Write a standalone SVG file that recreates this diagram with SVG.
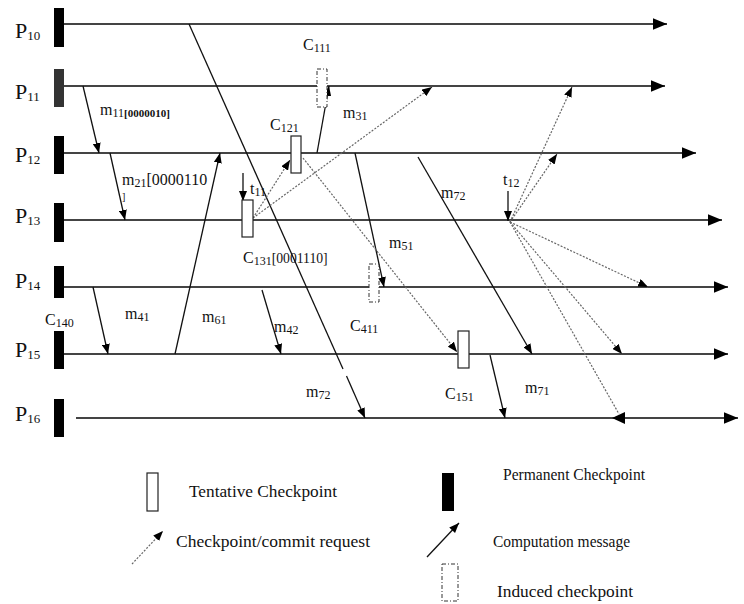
<svg xmlns="http://www.w3.org/2000/svg" width="744" height="604" viewBox="0 0 744 604">
<style>
text{font-family:"Liberation Serif","Times New Roman",serif;fill:#111}
.pl{font-size:22px}
.ps{font-size:13px}
.lb{font-size:16px}
.ls{font-size:12px}
.leg{font-size:16px}
.proc{stroke:#444;stroke-width:2;fill:none}
.msg{stroke:#111;stroke-width:1.3;fill:none}
.req{stroke:#666;stroke-width:1.2;stroke-dasharray:2 1.5;fill:none}
.perm{fill:#000}
.tent{fill:#fff;stroke:#222;stroke-width:1.2}
.ind{fill:#fff;stroke:#333;stroke-width:1;stroke-dasharray:4 2 1 2}
</style>
<defs>
<marker id="ap" viewBox="0 0 12 10" refX="12" refY="5" markerWidth="14" markerHeight="12" markerUnits="userSpaceOnUse" orient="auto"><path d="M0,0L12,5L0,10z" fill="#000"/></marker>
<marker id="am" viewBox="0 0 10 8" refX="10" refY="4" markerWidth="10" markerHeight="8" markerUnits="userSpaceOnUse" orient="auto"><path d="M0,0L10,4L0,8z" fill="#000"/></marker>
</defs>
<rect width="744" height="604" fill="#fff"/>

<g id="processes">
<g id="P10"><line class="proc" x1="64" y1="24" x2="667" y2="24" marker-end="url(#ap)"/><rect class="perm" x="54" y="8" width="10" height="39"/><text class="pl" x="15" y="38">P<tspan class="ps" dy="2">10</tspan></text></g>
<g id="P11"><line class="proc" x1="64" y1="86" x2="665" y2="86" marker-end="url(#ap)"/><rect x="54" y="69" width="10" height="38" fill="#333"/><text class="pl" x="15" y="99">P<tspan class="ps" dy="2">11</tspan></text></g>
<g id="P12"><line class="proc" x1="64" y1="153" x2="696" y2="153" marker-end="url(#ap)"/><rect class="perm" x="54" y="136" width="10" height="38"/><text class="pl" x="15" y="162">P<tspan class="ps" dy="2">12</tspan></text></g>
<g id="P13"><line class="proc" x1="64" y1="220" x2="722" y2="220" marker-end="url(#ap)"/><rect class="perm" x="54" y="203" width="10" height="39"/><text class="pl" x="15" y="223">P<tspan class="ps" dy="2">13</tspan></text></g>
<g id="P14"><line class="proc" x1="64" y1="287" x2="728" y2="287" marker-end="url(#ap)"/><rect class="perm" x="54" y="266" width="10" height="32"/><text class="pl" x="15" y="288">P<tspan class="ps" dy="2">14</tspan></text></g>
<g id="P15"><line class="proc" x1="64" y1="354" x2="728" y2="354" marker-end="url(#ap)"/><rect class="perm" x="54" y="331" width="10" height="38"/><text class="pl" x="15" y="357">P<tspan class="ps" dy="2">15</tspan></text></g>
<g id="P16"><line class="proc" x1="76" y1="418" x2="738" y2="418" marker-end="url(#ap)"/><rect class="perm" x="54" y="399" width="10" height="38"/><text class="pl" x="15" y="421">P<tspan class="ps" dy="2">16</tspan></text></g>
</g>

<g id="connectors">
<line class="msg" x1="189" y1="24" x2="343" y2="369"/>
<line class="msg" x1="346.5" y1="376" x2="365" y2="418" marker-end="url(#am)"/>
<line class="msg" x1="83" y1="86" x2="99" y2="153" marker-end="url(#am)"/>
<line class="msg" x1="110" y1="153" x2="125" y2="220" marker-end="url(#am)"/>
<line class="msg" x1="175" y1="354" x2="220" y2="153" marker-end="url(#am)"/>
<line class="msg" x1="93" y1="287" x2="108" y2="354" marker-end="url(#am)"/>
<line class="msg" x1="262" y1="290" x2="281" y2="354" marker-end="url(#am)"/>
<line class="msg" x1="317" y1="153" x2="329" y2="86" marker-end="url(#am)"/>
<line class="msg" x1="355" y1="153" x2="384" y2="287" marker-end="url(#am)"/>
<line class="msg" x1="418" y1="157" x2="532" y2="354" marker-end="url(#am)"/>
<line class="msg" x1="490" y1="355" x2="505" y2="418" marker-end="url(#am)"/>
<line class="msg" x1="243" y1="173" x2="243" y2="201" marker-end="url(#am)"/>
<line class="msg" x1="508" y1="191" x2="508" y2="221" marker-end="url(#am)"/>
<line class="req" x1="253" y1="218" x2="290" y2="160" marker-end="url(#am)"/>
<line class="req" x1="253" y1="218" x2="432" y2="87" marker-end="url(#am)"/>
<line class="req" x1="303" y1="158" x2="457" y2="352" marker-end="url(#am)"/>
<line class="req" x1="510" y1="222" x2="572" y2="87" marker-end="url(#am)"/>
<line class="req" x1="510" y1="222" x2="557" y2="154" marker-end="url(#am)"/>
<line class="req" x1="510" y1="222" x2="648" y2="287" marker-end="url(#am)"/>
<line class="req" x1="510" y1="222" x2="622" y2="354" marker-end="url(#am)"/>
<line class="req" x1="510" y1="222" x2="619" y2="414"/>
<path d="M612,418L625,412L625,424z" fill="#000"/>
</g>

<g id="checkpoints">
<g id="C111"><rect class="ind" x="317" y="69" width="10" height="38"/><text class="lb" x="303" y="50">C<tspan class="ls" dy="2">111</tspan></text></g>
<g id="C121"><rect class="tent" x="291" y="136" width="10" height="37"/><text class="lb" x="270" y="130">C<tspan class="ls" dy="2">121</tspan></text></g>
<g id="C131"><rect class="tent" x="242" y="200" width="11" height="37"/><text class="lb" x="243" y="263">C<tspan class="ls" dy="2">131</tspan><tspan dy="-2" font-size="15" textLength="56" lengthAdjust="spacingAndGlyphs">[0001110]</tspan></text></g>
<g id="C411"><rect class="ind" x="369" y="264" width="10" height="38"/><text class="lb" x="350" y="331">C<tspan class="ls" dy="2">411</tspan></text></g>
<g id="C151"><rect class="tent" x="458" y="331" width="11" height="37"/><text class="lb" x="445" y="399">C<tspan class="ls" dy="2">151</tspan></text></g>
<g id="C140"><text class="lb" x="45" y="325">C<tspan class="ls" dy="2">140</tspan></text></g>
</g>

<g id="labels">
<text class="lb" x="100" y="115">m<tspan class="ls" dy="2">11</tspan><tspan font-size="11" font-weight="bold">[0000010]</tspan></text>
<text class="lb" x="122" y="185">m<tspan class="ls" dy="2">21</tspan><tspan dy="-2" font-size="16">[0000110</tspan></text>
<text x="122" y="200" font-size="10">]</text>
<text class="lb" x="343" y="118">m<tspan class="ls" dy="2">31</tspan></text>
<text class="lb" x="250" y="194">t<tspan class="ls" dy="2">11</tspan></text>
<text class="lb" x="441" y="198">m<tspan class="ls" dy="2">72</tspan></text>
<text class="lb" x="503" y="185">t<tspan class="ls" dy="2">12</tspan></text>
<text class="lb" x="389" y="248">m<tspan class="ls" dy="2">51</tspan></text>
<text class="lb" x="125" y="319">m<tspan class="ls" dy="2">41</tspan></text>
<text class="lb" x="202" y="322">m<tspan class="ls" dy="2">61</tspan></text>
<text class="lb" x="274" y="332">m<tspan class="ls" dy="2">42</tspan></text>
<text class="lb" x="306" y="397">m<tspan class="ls" dy="2">72</tspan></text>
<text class="lb" x="525" y="393">m<tspan class="ls" dy="2">71</tspan></text>
</g>

<g id="legend">
<rect class="tent" x="147" y="473" width="11" height="38"/>
<text class="leg" x="189" y="497" textLength="148" lengthAdjust="spacingAndGlyphs">Tentative Checkpoint</text>
<line class="req" x1="132" y1="564" x2="163" y2="531" marker-end="url(#am)"/>
<text class="leg" x="176" y="547" textLength="194" lengthAdjust="spacingAndGlyphs">Checkpoint/commit request</text>
<rect class="perm" x="442" y="473" width="12" height="38"/>
<text class="leg" x="503" y="480" textLength="142" lengthAdjust="spacingAndGlyphs">Permanent Checkpoint</text>
<line class="msg" x1="427" y1="557" x2="459" y2="523" marker-end="url(#am)"/>
<text class="leg" x="493" y="547" textLength="137" lengthAdjust="spacingAndGlyphs">Computation message</text>
<rect class="ind" x="442" y="564" width="16" height="37"/>
<text class="leg" x="497" y="597" textLength="136" lengthAdjust="spacingAndGlyphs">Induced checkpoint</text>
</g>
</svg>
